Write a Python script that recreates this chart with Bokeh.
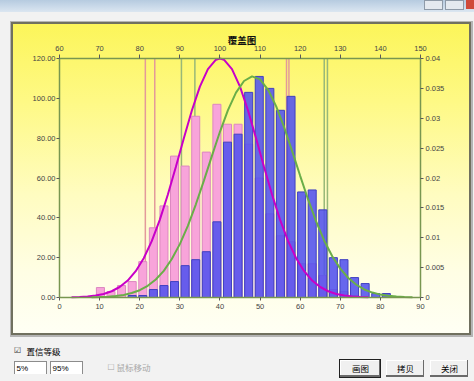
from bokeh.plotting import figure
from bokeh.models import Range1d, LinearAxis, FixedTicker, PrintfTickFormatter, CustomJSTickFormatter, Label
from bokeh.embed import file_html
from bokeh.resources import INLINE

# ---------------- data ----------------
bin_centers = [10.2, 12.84, 15.48, 18.12, 20.76, 23.4, 26.04, 28.68, 31.32, 33.96,
               36.6, 39.24, 41.88, 44.52, 47.16, 49.8, 52.44, 55.08, 57.72, 60.36,
               63.0, 65.64, 68.28, 70.92, 73.56, 76.2, 78.84, 81.48]
pink_counts = [5, 3, 6, 8, 18, 35, 46, 71, 66, 91, 73, 97, 87, 87, 77, 60, 42, 31,
               28, 17, 17, 11, 4, 3, 1, 0, 0, 0]
blue_counts = [0, 0, 0, 1, 1, 4, 6, 8, 16, 19, 23, 38, 78, 82, 103, 111, 105, 94,
               101, 53, 54, 44, 20, 19, 10, 7, 2, 2]

curve1_x = [3, 5, 7, 9, 11, 13, 15, 17, 19, 21, 23, 25, 27, 29, 31, 33, 35, 37, 39, 40,
            41, 43, 45, 47, 49, 51, 53, 55, 57, 59, 61, 63, 65, 67, 69, 71, 73, 75, 77]
curve1_y = [0.13, 0.26, 0.52, 0.98, 1.79, 3.14, 5.27, 8.52, 13.2, 19.7, 28.3, 39.0, 51.6,
            65.5, 80.0, 93.9, 105.9, 114.7, 119.4, 120.0, 119.4, 114.7, 105.9, 93.9, 80.0,
            65.5, 51.6, 39.0, 28.3, 19.7, 13.2, 8.52, 5.27, 3.14, 1.79, 0.98, 0.52, 0.26, 0.13]
curve2_x = [8, 10, 12, 14, 16, 18, 20, 22, 24, 26, 28, 30, 32, 34, 36, 38, 40, 42, 44, 46,
            48, 50, 52, 54, 56, 58, 60, 62, 64, 66, 68, 70, 72, 74, 76, 78, 80, 82, 84, 86, 88]
curve2_y = [0.11, 0.21, 0.40, 0.74, 1.30, 2.23, 3.67, 5.86, 9.02, 13.4, 19.3, 26.8, 36.0,
            46.8, 58.7, 71.1, 83.2, 94.1, 102.9, 108.7, 111.0, 109.5, 104.3, 96.1, 85.5,
            73.5, 61.1, 49.1, 38.1, 28.5, 20.7, 14.5, 9.79, 6.40, 4.04, 2.47, 1.45, 0.83,
            0.46, 0.24, 0.12]

pink_limits = [21.4, 23.75, 56.6, 57.2]
green_limits = [30.4, 33.75, 66.0, 66.8]

x_ticks = [0, 10, 20, 30, 40, 50, 60, 70, 80, 90]
top_ticks = [60, 70, 80, 90, 100, 110, 120, 130, 140, 150]
y_ticks = [0, 20, 40, 60, 80, 100, 120]
dens_ticks = [0, 0.005, 0.01, 0.015, 0.02, 0.025, 0.03, 0.035, 0.04]

title_text = "覆盖图"
check_text = "置信等级"
low_text = "5%"
high_text = "95%"
mouse_text = "鼠标移动"
btn_texts = ["画图", "拷贝", "关闭"]

# ---------------- layout (pixels of the 474x381 canvas) ----------------
W, H = 474, 381
X0_PX, X1_PX = 59.0, 420.0      # data x 0 .. 90
Y0_PX, Y1_PX = 297.0, 58.0      # data y 0 .. 120
xs = (X1_PX - X0_PX) / (x_ticks[-1] - x_ticks[0])
ys = (Y0_PX - Y1_PX) / (y_ticks[-1] - y_ticks[0])
x_lo, x_hi = -X0_PX / xs, (W - X0_PX) / xs
y_lo, y_hi = (Y0_PX - H) / ys, Y0_PX / ys
top_off = top_ticks[0] - x_ticks[0]
dens_k = dens_ticks[-1] / y_ticks[-1]

def sx(px):
    return (px - X0_PX) / xs

def sy(py):
    return (Y0_PX - py) / ys

# ---------------- css background (dialog + yellow panel) ----------------
def rect(x, y, w, h, c):
    return f"linear-gradient({c},{c}) {x}px {y}px / {w}px {h}px no-repeat"

layers = []
for bx, bw in [(340, 40), (386, 38), (430, 38)]:
    layers.append(rect(bx + 1, 361, bw - 2, 14, "#f0f0f0"))
    layers.append(rect(bx, 360, bw - 1, 15, "#ffffff"))
    layers.append(rect(bx, 360, bw, 17, "#6a6a6a"))
layers.append(rect(339, 359, 42, 19, "#202020"))
for ix in [14, 50]:
    layers.append(rect(ix + 1, 362, 31, 12, "#ffffff"))
    layers.append(rect(ix, 361, 33, 13, "#8c8c8c"))
layers.append("linear-gradient(to bottom, #fcf55a 0%, #fef985 25%, #fffcc0 55%, #fffee4 80%, #fffff4 100%) 13px 24px / 456px 309px no-repeat")
layers.append(rect(11, 22, 460, 313, "#70705f"))
layers.append(rect(10, 21, 463, 316, "#b4b4b4"))
layers.append(rect(466, 0, 8, 9, "#d04a3a"))
layers.append(rect(446, 1, 17, 8, "#e4e9ef"))
layers.append(rect(445, 0, 19, 10, "#8e9aa8"))
layers.append(rect(425, 1, 17, 8, "#e4e9ef"))
layers.append(rect(424, 0, 19, 10, "#8e9aa8"))
layers.append("linear-gradient(to bottom, #b6cbe0, #dbe6f1) 0px 0px / 474px 12px no-repeat")
layers.append("#f2f2f2")
css_bg = ", ".join(layers)

# ---------------- figure ----------------
p = figure(width=W, height=H, x_range=Range1d(x_lo, x_hi), y_range=Range1d(y_lo, y_hi),
           output_backend="svg", toolbar_location=None,
           min_border_left=0, min_border_right=0, min_border_top=0, min_border_bottom=0,
           border_fill_alpha=0, background_fill_alpha=0, outline_line_color=None)
p.styles = {"background": css_bg}
p.grid.visible = False
p.extra_x_ranges = {"top": Range1d(x_lo + top_off, x_hi + top_off)}
p.extra_y_ranges = {"dens": Range1d(y_lo * dens_k, y_hi * dens_k)}

axis_col = "#789650"
lab_font = "Liberation Sans"

def style_axis(ax, tick_out, standoff):
    ax.axis_line_color = axis_col
    ax.axis_line_width = 1.5
    ax.major_tick_line_color = "#5a5a5a"
    ax.major_tick_out = tick_out
    ax.major_tick_in = 0
    ax.minor_tick_line_color = None
    ax.major_label_text_font = lab_font
    ax.major_label_text_font_size = "7.5px"
    ax.major_label_text_color = "#444444"
    ax.major_label_standoff = standoff

xa = p.xaxis[0]
xa.ticker = FixedTicker(ticks=x_ticks)
xa.fixed_location = y_ticks[0]
xa.bounds = (x_ticks[0], x_ticks[-1])
style_axis(xa, 3, 3)

ya = p.yaxis[0]
ya.ticker = FixedTicker(ticks=y_ticks)
ya.formatter = PrintfTickFormatter(format="%.2f")
ya.fixed_location = x_ticks[0]
ya.bounds = (y_ticks[0], y_ticks[-1])
style_axis(ya, 3, 1)

top_ax = LinearAxis(x_range_name="top", ticker=FixedTicker(ticks=top_ticks),
                    fixed_location=y_ticks[-1], bounds=(top_ticks[0], top_ticks[-1]))
style_axis(top_ax, 4, 4)
p.add_layout(top_ax, "above")

right_ax = LinearAxis(y_range_name="dens", ticker=FixedTicker(ticks=dens_ticks),
                      fixed_location=x_ticks[-1], bounds=(dens_ticks[0], dens_ticks[-1]),
                      formatter=CustomJSTickFormatter(code="return String(Math.round(tick*1000)/1000);"))
style_axis(right_ax, 3, 2)
p.add_layout(right_ax, "right")

# limit lines
p.segment(x0=pink_limits, y0=[y_ticks[0]] * len(pink_limits), x1=pink_limits,
          y1=[y_ticks[-1]] * len(pink_limits), line_color="#e39a9a", line_width=1.5)
p.segment(x0=green_limits, y0=[y_ticks[0]] * len(green_limits), x1=green_limits,
          y1=[y_ticks[-1]] * len(green_limits), line_color="#98b878", line_width=1.5)

# histograms
p.vbar(x=bin_centers, width=2.0, top=pink_counts, bottom=0,
       fill_color="#f8a4da", line_color="#dc88c0", line_width=1)
p.vbar(x=bin_centers, width=2.0, top=blue_counts, bottom=0,
       fill_color="#5252ee", fill_alpha=0.88, line_color="#4040c0", line_width=1)

# fitted curves
p.line(curve1_x, curve1_y, line_color="#c800c8", line_width=2)
p.line(curve2_x, curve2_y, line_color="#6aae48", line_width=2)

# ---------------- texts ----------------
def add_label(px, py, text, size, color="#000000", align="left", font="Noto Sans CJK SC", style="normal"):
    p.add_layout(Label(x=sx(px), y=sy(py), text=text, text_font=font, text_font_size=size,
                       text_color=color, text_align=align, text_baseline="middle",
                       text_font_style=style))

add_label(241.5, 39.5, title_text, "9.5px", "#111111", "center", style="bold")
add_label(17, 350, "☑", "8px", "#333333", "center", font="DejaVu Sans")
add_label(26, 350, check_text, "8.5px")
add_label(16, 367.5, low_text, "8px", font="Liberation Sans")
add_label(52, 367.5, high_text, "8px", font="Liberation Sans")
add_label(110.5, 366.5, "☐", "8px", "#a8a8a8", "center", font="DejaVu Sans")
add_label(116, 366.5, mouse_text, "8.5px", "#a8a8a8")
for cx, t in zip([360, 405, 449], btn_texts):
    add_label(cx, 367.5, t, "8.5px", "#000000", "center")

open("out.html", "w").write(file_html(p, INLINE))
